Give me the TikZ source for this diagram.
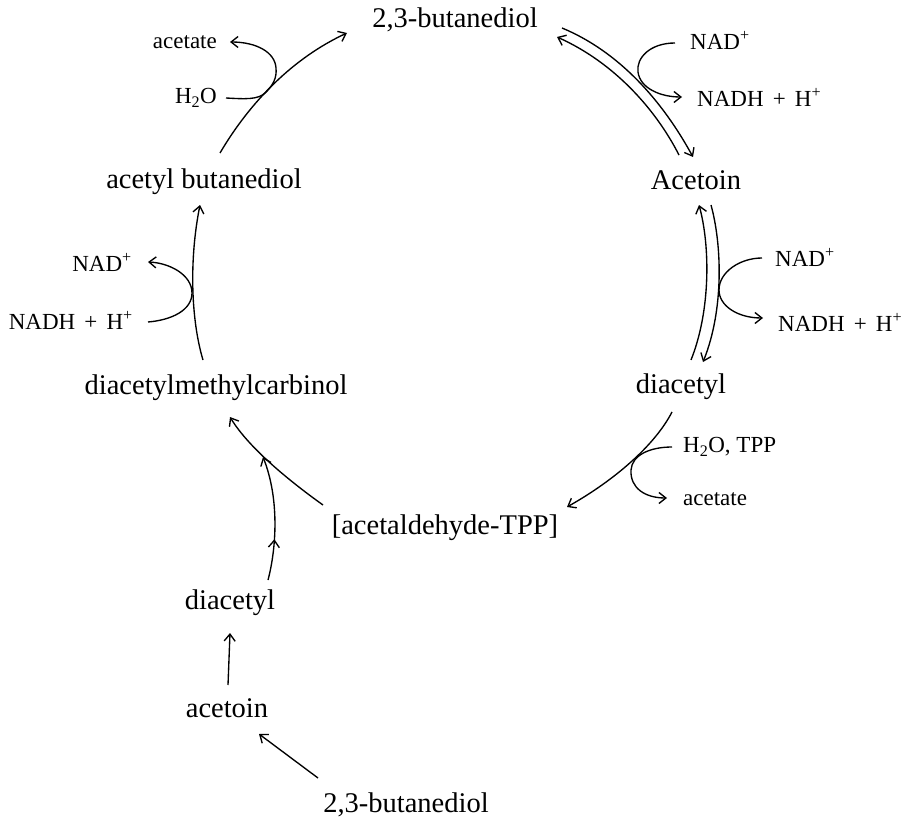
\documentclass[tikz,border=0pt]{standalone}
\usepackage{fontspec}
\setmainfont{Liberation Serif}
\usetikzlibrary{arrows.meta,decorations.markings}
\begin{document}
\begin{tikzpicture}[x=1pt,y=-1pt,
  big/.style={font=\fontsize{28.5}{30}\selectfont, inner sep=0pt},
  small/.style={font=\fontsize{23}{25}\selectfont, inner sep=0pt},
  conn/.style={line width=1.35pt},
  arr/.style={conn,-{Straight Barb[length=7pt,width=11pt]}},
  midarr/.style={postaction={decorate},decoration={markings,
     mark=at position 0.33 with {\arrow{Straight Barb[length=7pt,width=11pt]}}}}]
\useasboundingbox (0,0) rectangle (905,824);

% main compounds
\node[big] (but1) at (455,20) {2,3-butanediol};
\node[big] (acn) at (696,180) {Acetoin};
\node[big] (diaR) at (681,387) {diacetyl};
\node[big] (atpp) at (445,528) {[acetaldehyde-TPP]};
\node[big] (dmc) at (216,388) {diacetylmethylcarbinol};
\node[big] (acb) at (204,182) {acetyl butanediol};
\node[big] (diaL) at (230,603) {diacetyl};
\node[big] (acl) at (227,708) {acetoin};
\node[big] (but2) at (406,805) {2,3-butanediol};

% cofactors
\node[small,anchor=east] (acL) at (217,42) {acetate};
\node[small,anchor=east] (h2oL) at (217,98) {H\textsubscript{2}O};
\node[small,anchor=west] (nad1) at (690,40) {NAD\textsuperscript{+}};
\node[small,anchor=west] (nadh1) at (697,97) {NADH\hspace{.4em}+\hspace{.4em}H\textsuperscript{+}};
\node[small,anchor=west] (nad2) at (775,257) {NAD\textsuperscript{+}};
\node[small,anchor=west] (nadh2) at (778,322) {NADH\hspace{.4em}+\hspace{.4em}H\textsuperscript{+}};
\node[small,anchor=west] (h2otpp) at (683,447) {H\textsubscript{2}O, TPP};
\node[small,anchor=west] (acR) at (683,499) {acetate};
\node[small,anchor=east] (nad3) at (132,262) {NAD\textsuperscript{+}};
\node[small,anchor=east] (nadh3) at (133,320) {NADH\hspace{.4em}+\hspace{.4em}H\textsuperscript{+}};

% connector end points
\coordinate (a1) at (220,153);  \coordinate (a2) at (347,33);
\coordinate (sa0) at (226,98);  \coordinate (sa1) at (230,42);
\coordinate (b1) at (562,28);   \coordinate (b2) at (693,157);
\coordinate (b3) at (679,155);  \coordinate (b4) at (557,37);
\coordinate (sb0) at (675,43);  \coordinate (sb1) at (682,97);
\coordinate (c1) at (711,205);  \coordinate (c2) at (703,362);
\coordinate (c3) at (691,360);  \coordinate (c4) at (699,205);
\coordinate (sc0) at (762,258); \coordinate (sc1) at (763,318);
\coordinate (d1) at (672,412);  \coordinate (d2) at (567,507);
\coordinate (sd0) at (672,447); \coordinate (sd1) at (667,498);
\coordinate (e1) at (323,505);  \coordinate (e2) at (230,417);
\coordinate (f1) at (268,580);  \coordinate (f2) at (263,457);
\coordinate (g1) at (203,360);  \coordinate (g2) at (200,205);
\coordinate (sg0) at (148,322); \coordinate (sg1) at (148,262);
\coordinate (h1) at (228,685);  \coordinate (h2) at (230,633);
\coordinate (k1) at (318,778);  \coordinate (k2) at (259,734);

% acetyl butanediol -> 2,3-butanediol
\draw[arr] (a1) .. controls (250,102) and (293,58) .. (a2);
\draw[arr] (sa0) .. controls (245,99) and (258,100) .. (265.7,92.5)
  .. controls (273,85) and (277,78) .. (276,68)
  .. controls (275,52) and (256,42) .. (sa1);

% 2,3-butanediol <-> Acetoin
\draw[arr] (b1) .. controls (620,52) and (663,102) .. (b2);
\draw[arr] (b3) .. controls (655,108) and (613,62) .. (b4);
\draw[arr] (sb0) .. controls (650,43) and (636,58) .. (638,72)
  .. controls (640,88) and (660,97) .. (sb1);

% Acetoin <-> diacetyl
\draw[arr] (c1) .. controls (722,245) and (724,310) .. (c2);
\draw[arr] (c3) .. controls (711,310) and (710,245) .. (c4);
\draw[arr] (sc0) .. controls (740,258) and (719,272) .. (719,290)
  .. controls (719,306) and (738,318) .. (sc1);

% diacetyl -> [acetaldehyde-TPP]
\draw[arr] (d1) .. controls (655,445) and (615,480) .. (d2);
\draw[arr] (sd0) .. controls (650,447) and (632,455) .. (631,470)
  .. controls (630,488) and (645,498) .. (sd1);

% [acetaldehyde-TPP] -> diacetylmethylcarbinol
\draw[arr] (e1) .. controls (295,485) and (250,450) .. (e2);
\draw[arr,midarr] (f1) .. controls (276,550) and (280,500) .. (f2);

% diacetylmethylcarbinol -> acetyl butanediol
\draw[arr] (g1) .. controls (191,320) and (189,260) .. (g2);
\draw[arr] (sg0) .. controls (172,320) and (192,310) .. (192,293)
  .. controls (192,275) and (170,263) .. (sg1);

% lower chain
\draw[arr] (h1) -- (h2);
\draw[arr] (k1) -- (k2);
\end{tikzpicture}
\end{document}
